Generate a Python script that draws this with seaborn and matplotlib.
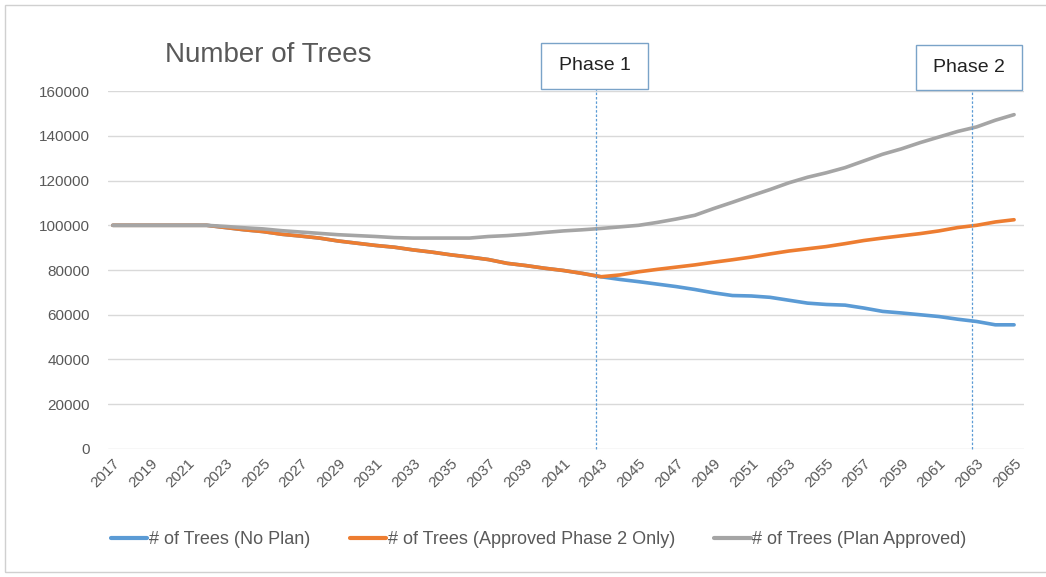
import numpy as np
import pandas as pd
import matplotlib
matplotlib.use("Agg")
import matplotlib.pyplot as plt
from matplotlib.patches import Rectangle
import seaborn as sns

years = list(range(2017, 2066))

no_plan = [
    100000, 100000, 100000, 100000, 100000, 100000,            # 2017-2022
    99000, 98000, 97200, 96000, 95200, 94300, 93000, 92000,    # 2023-2030
    91000, 90200, 89000, 88000, 86800, 85800, 84700, 83000,    # 2031-2038
    82000, 80800, 79800, 78500, 77000,                         # 2039-2043
    75800, 74800, 73700, 72600, 71300, 69800, 68600, 68400,    # 2044-2051
    67800, 66500, 65200, 64600, 64300, 63000, 61500, 60800,    # 2052-2059
    60000, 59200, 58000, 57000, 55500, 55500,                  # 2060-2065
]

phase2_only = no_plan[:27] + [
    77800, 79200, 80300, 81300, 82300, 83500, 84600, 85800,    # 2044-2051
    87200, 88500, 89500, 90500, 91800, 93200, 94300, 95300,    # 2052-2059
    96300, 97500, 99000, 100000, 101500, 102500,               # 2060-2065
]

plan_approved = [
    100000, 100000, 100000, 100000, 100000, 100000,            # 2017-2022
    99500, 98900, 98400, 97600, 97000, 96400, 95800, 95400,    # 2023-2030
    95000, 94500, 94300, 94300, 94300, 94300, 95000, 95400,    # 2031-2038
    96000, 96800, 97500, 98000, 98600,                         # 2039-2043
    99300, 100000, 101300, 102800, 104500, 107500, 110300, 113200,  # 2044-2051
    116000, 119000, 121500, 123500, 125800, 128800, 131800, 134200, # 2052-2059
    137000, 139500, 142000, 144000, 147000, 149500,            # 2060-2065
]

series_names = [
    "# of Trees (No Plan)",
    "# of Trees (Approved Phase 2 Only)",
    "# of Trees (Plan Approved)",
]
series_colors = ["#5b9bd5", "#ed7d31", "#a5a5a5"]
phase_years = [2043, 2063]
phase_labels = ["Phase 1", "Phase 2"]
y_ticks = list(range(0, 160001, 20000))
x_ticks = list(range(2017, 2066, 2))

df = pd.concat([
    pd.DataFrame({"Year": years, "Trees": vals, "Series": name})
    for name, vals in zip(series_names, [no_plan, phase2_only, plan_approved])
])

sns.set_theme(style="white")
plt.rcParams["font.family"] = ["Liberation Sans", "DejaVu Sans"]

fig = plt.figure(figsize=(10.46, 5.77), dpi=100)
ax = fig.add_axes([0.103, 0.222, 0.876, 0.620])

sns.lineplot(data=df, x="Year", y="Trees", hue="Series",
             hue_order=series_names, palette=series_colors,
             linewidth=2.6, ax=ax, legend=True)

text_col = "#595959"
ax.set_ylim(0, 160000)
ax.set_xlim(2016.73, 2065.53)
ax.set_yticks(y_ticks)
ax.set_yticklabels([str(v) for v in y_ticks], fontsize=11, color=text_col)
ax.set_xticks(x_ticks)
ax.set_xticklabels([str(v) for v in x_ticks], fontsize=11, color=text_col,
                   rotation=45, ha="right", rotation_mode="anchor")
ax.tick_params(axis="y", length=0, pad=13)
ax.tick_params(axis="x", length=0, pad=5)
ax.grid(axis="y", color="#d9d9d9", linewidth=1.0)
ax.set_axisbelow(True)
for s in ax.spines.values():
    s.set_visible(False)
ax.set_xlabel("")
ax.set_ylabel("")

# phase markers: dashed vertical guides with boxed captions
box_px = [(541, 43, 107, 46), (916, 45, 106, 45)]
for yr, lab, (bx, by, bw, bh) in zip(phase_years, phase_labels, box_px):
    xpos = yr - 0.25
    top_frac = 1 - (by + bh) / 577
    ax_top = (top_frac - 0.222) / 0.620
    ax.axvline(xpos, ymin=0, ymax=ax_top, color="#5b9bd5",
               linewidth=0.9, linestyle=(0, (2, 1.5)), clip_on=False)
    fig.patches.append(Rectangle((bx / 1046, 1 - (by + bh) / 577), bw / 1046, bh / 577,
                                 transform=fig.transFigure, facecolor="white",
                                 edgecolor="#7aa3c8", linewidth=1.0))
    fig.text((bx + bw / 2) / 1046, 1 - (by + bh / 2) / 577, lab,
             ha="center", va="center", fontsize=14, color="#222222")

fig.text(165 / 1046, 1 - 55 / 577, "Number of Trees", ha="left", va="center",
         fontsize=20, color=text_col)

# outer chart frame
fig.patches.append(Rectangle((5 / 1046, 1 - 572 / 577), 1.2, 567 / 577,
                             transform=fig.transFigure, facecolor="none",
                             edgecolor="#d0d0d0", linewidth=1.0))

handles, labels = ax.get_legend_handles_labels()
for h in handles:
    h.set_linewidth(3.0)
ax.legend(handles, labels, loc="center", bbox_to_anchor=(0.515, 1 - 540 / 577),
          bbox_transform=fig.transFigure, ncol=3, frameon=False,
          fontsize=13, handlelength=2.0, handletextpad=0.1, columnspacing=2.2,
          labelcolor=text_col)

fig.savefig("out.png", dpi=100)
